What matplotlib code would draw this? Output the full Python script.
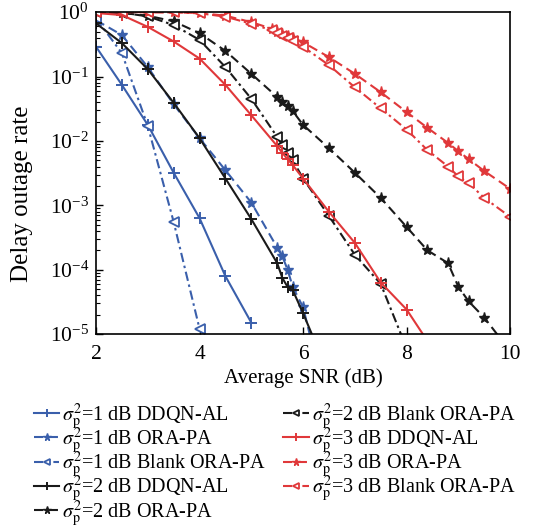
import matplotlib
matplotlib.use("Agg")
import matplotlib.pyplot as plt
from matplotlib.ticker import LogLocator, NullFormatter

plt.rcParams['font.family'] = ['Liberation Serif', 'DejaVu Serif']
plt.rcParams['mathtext.fontset'] = 'stix'

# ---- data ----
x_s1_ddqn = [2, 2.5, 3, 3.5, 4, 4.5, 5]
y_s1_ddqn = [0.29, 0.074, 0.0177, 0.0032, 6.3e-4, 7.9e-5, 1.5e-5]

x_s1_ora = [2, 2.5, 3, 3.5, 4, 4.5, 5, 5.5, 5.6, 5.7, 5.8, 6, 6.5]
y_s1_ora = [0.75, 0.44, 0.14, 0.037, 0.011, 0.0035, 0.0011, 2.2e-4, 1.6e-4, 1.0e-4, 5.4e-5, 2.6e-5, 6e-7]

x_s1_blank = [2, 2.5, 3, 3.5, 4]
y_s1_blank = [0.8, 0.23, 0.017, 5.5e-4, 1.2e-5]

x_s2_ddqn = [2, 2.5, 3, 3.5, 4, 4.5, 5, 5.5, 5.6, 5.7, 5.8, 6, 6.5]
y_s2_ddqn = [0.67, 0.33, 0.13, 0.039, 0.011, 0.0026, 6.1e-4, 1.26e-4, 7.4e-5, 5.4e-5, 4.8e-5, 2.1e-5, 2.3e-6]

x_s2_ora = [2, 2.5, 3, 3.5, 4, 4.5, 5, 5.5, 5.6, 5.7, 5.8, 6, 6.5, 7, 7.5, 8, 8.4, 8.8, 9, 9.2, 9.5, 10]
y_s2_ora = [0.99, 0.97, 0.88, 0.72, 0.47, 0.25, 0.11, 0.048, 0.04, 0.035, 0.029, 0.0177, 0.0077, 0.0032,
            0.0013, 4.6e-4, 2.0e-4, 1.26e-4, 5.4e-5, 3.2e-5, 1.8e-5, 5.4e-6]

x_s2_blank = [2, 2.5, 3, 3.5, 4, 4.5, 5, 5.5, 5.6, 5.7, 5.8, 6, 6.5, 7, 7.5, 8]
y_s2_blank = [1.0, 0.98, 0.86, 0.63, 0.37, 0.14, 0.045, 0.0115, 0.0085, 0.0065, 0.005, 0.0026, 6.8e-4,
              1.7e-4, 6.0e-5, 6e-6]

x_s3_ddqn = [2, 2.5, 3, 3.5, 4, 4.5, 5, 5.5, 5.6, 5.7, 5.8, 6, 6.5, 7, 7.5, 8, 8.5]
y_s3_ddqn = [0.97, 0.9, 0.59, 0.35, 0.19, 0.074, 0.025, 0.0083, 0.0065, 0.0052, 0.0042, 0.0026, 7.9e-4,
             2.6e-4, 6.3e-5, 2.4e-5, 5.9e-6]

x_s3_ora = [2, 2.5, 3, 3.5, 4, 4.5, 5, 5.4, 5.5, 5.6, 5.7, 5.8, 6, 6.5, 7, 7.5, 8, 8.4, 8.8, 9, 9.2, 9.5, 10]
y_s3_ora = [1.0, 1.0, 1.0, 0.99, 0.97, 0.88, 0.7, 0.55, 0.5, 0.46, 0.43, 0.4, 0.34, 0.2, 0.11, 0.057,
            0.028, 0.016, 0.0093, 0.0069, 0.0052, 0.0034, 0.0018]

x_s3_blank = [2, 2.5, 3, 3.5, 4, 4.5, 5, 5.4, 5.5, 5.6, 5.7, 5.8, 6, 6.5, 7, 7.5, 8, 8.4, 8.8, 9, 9.2, 9.5, 10]
y_s3_blank = [1.0, 1.0, 1.0, 0.99, 0.96, 0.85, 0.66, 0.52, 0.47, 0.43, 0.39, 0.35, 0.29, 0.15, 0.068,
              0.032, 0.015, 0.0072, 0.004, 0.0028, 0.0022, 0.0013, 6.6e-4]

labels = [
    r'$\sigma_\mathrm{p}^2$=1 dB DDQN-AL',
    r'$\sigma_\mathrm{p}^2$=1 dB ORA-PA',
    r'$\sigma_\mathrm{p}^2$=1 dB Blank ORA-PA',
    r'$\sigma_\mathrm{p}^2$=2 dB DDQN-AL',
    r'$\sigma_\mathrm{p}^2$=2 dB ORA-PA',
    r'$\sigma_\mathrm{p}^2$=2 dB Blank ORA-PA',
    r'$\sigma_\mathrm{p}^2$=3 dB DDQN-AL',
    r'$\sigma_\mathrm{p}^2$=3 dB ORA-PA',
    r'$\sigma_\mathrm{p}^2$=3 dB Blank ORA-PA',
]

blue = '#3a5fab'
black = '#1a1a1a'
red = '#e0383a'

fig = plt.figure(figsize=(5.41, 5.28), dpi=100)
ax = fig.add_axes([0.1775, 0.3674, 0.7655, 0.6096])

lw = 1.5
dash = (0, (4.5, 2.5))
dashdot = (0, (4.5, 1.8, 1.2, 1.8))

series = [
    (x_s1_ddqn, y_s1_ddqn, blue, '-', '+'),
    (x_s1_ora, y_s1_ora, blue, dash, '*'),
    (x_s1_blank, y_s1_blank, blue, dashdot, '<'),
    (x_s2_ddqn, y_s2_ddqn, black, '-', '+'),
    (x_s2_ora, y_s2_ora, black, dash, '*'),
    (x_s2_blank, y_s2_blank, black, dashdot, '<'),
    (x_s3_ddqn, y_s3_ddqn, red, '-', '+'),
    (x_s3_ora, y_s3_ora, red, dash, '*'),
    (x_s3_blank, y_s3_blank, red, dashdot, '<'),
]

for (xs, ys, c, ls, mk), lab in zip(series, labels):
    if mk == '<':
        ax.plot(xs, ys, color=c, ls=ls, lw=lw, marker=mk, ms=6.5, mfc='white',
                mec=c, mew=1.3, label=lab)
    elif mk == '*':
        ax.plot(xs, ys, color=c, ls=ls, lw=lw, marker=mk, ms=8, mfc=c, mec=c, label=lab)
    else:
        ax.plot(xs, ys, color=c, ls=ls, lw=lw, marker=mk, ms=9, mew=1.4, label=lab)

ax.set_yscale('log')
ax.set_xlim(2, 10)
ax.set_ylim(1e-5, 1)
ax.set_xticks([2, 4, 6, 8, 10])
ax.yaxis.set_major_locator(LogLocator(base=10, numticks=10))
ax.yaxis.set_minor_locator(LogLocator(base=10, subs=range(2, 10), numticks=20))
ax.yaxis.set_minor_formatter(NullFormatter())
ax.tick_params(which='both', direction='in', labelsize=15.5, top=False, right=False)
ax.tick_params(which='major', length=5, width=1, pad=5)
ax.tick_params(axis='x', which='major', pad=8)
ax.tick_params(which='minor', length=3, width=0.8)
for s in ax.spines.values():
    s.set_linewidth(1.2)
ax.set_xlabel('Average SNR (dB)', fontsize=15, labelpad=3)
ax.set_ylabel('Delay outage rate', fontsize=18)
ax.yaxis.set_label_coords(-0.152, 0.435)

handles, labs = ax.get_legend_handles_labels()
leg = fig.legend(handles, labs, loc='upper left', bbox_to_anchor=(0.048, 0.256),
                 ncol=2, frameon=False, fontsize=14.5, handlelength=1.25,
                 handletextpad=0.15, columnspacing=0.85, labelspacing=-0.32,
                 markerscale=0.7, borderaxespad=0)

fig.savefig('out.png', dpi=100)
